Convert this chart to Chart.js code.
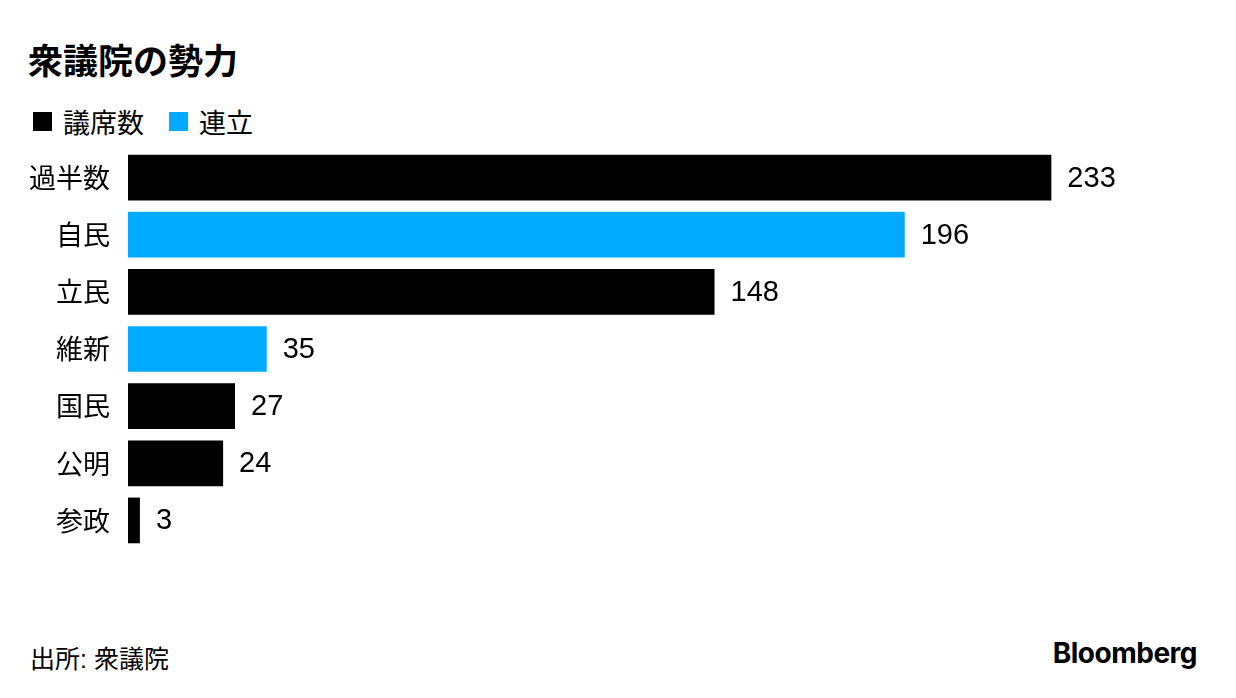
<!DOCTYPE html>
<html>
<head>
<meta charset="utf-8">
<script src="https://cdn.jsdelivr.net/npm/chart.js@4"></script>
<style>
  html, body { margin: 0; padding: 0; background: #fff; }
  body { width: 1236px; height: 698px; position: relative; overflow: hidden;
         font-family: "Liberation Sans", "Noto Sans CJK JP", sans-serif; color: #000; }
  #title { position: absolute; left: 28px; top: 33px; font-size: 35px; font-weight: bold;
           font-family: "Noto Sans CJK JP", sans-serif; }
  #legend { position: absolute; left: 33px; top: 102px; font-size: 27px;
            font-family: "Noto Sans CJK JP", sans-serif; display: flex; align-items: center; }
  .sw { display: inline-block; width: 19px; height: 19px; margin-right: 11px; }
  .item { display: flex; align-items: center; margin-right: 25px; }
  #wrap { position: absolute; left: 0; top: 149px; width: 1236px; height: 400px; }
  #source { position: absolute; left: 30px; top: 639px; font-size: 25px;
            font-family: "Liberation Sans", "Noto Sans CJK JP", sans-serif; }
  #logo { position: absolute; right: 39px; top: 636px; font-size: 28px; font-weight: bold;
          font-family: "Inter", "Noto Sans", sans-serif; letter-spacing: -0.5px; }
</style>
</head>
<body>
<div id="title">衆議院の勢力</div>
<div id="legend">
  <span class="item"><span class="sw" style="background:#000"></span>議席数</span>
  <span class="item"><span class="sw" style="background:#00aaff"></span>連立</span>
</div>
<div id="wrap"><canvas id="chart" width="1236" height="400"></canvas></div>
<div id="source">出所: 衆議院</div>
<div id="logo">Bloomberg</div>

<script>
const parties = ['過半数', '自民', '立民', '維新', '国民', '公明', '参政'];
const seats = [233, 196, 148, 35, 27, 24, 3];
const coalition = [false, true, false, true, false, false, false];

const BLACK = '#000000';
const BLUE = '#00aaff';

const valueLabels = {
  id: 'valueLabels',
  afterDatasetsDraw(chart) {
    const ctx = chart.ctx;
    const meta = chart.getDatasetMeta(0);
    ctx.save();
    ctx.font = '29px "Liberation Sans", sans-serif';
    ctx.fillStyle = '#000';
    ctx.textBaseline = 'middle';
    ctx.textAlign = 'left';
    meta.data.forEach((bar, i) => {
      ctx.fillText(String(seats[i]), bar.x + 16, bar.y + 1);
    });
    ctx.restore();
  }
};

new Chart(document.getElementById('chart'), {
  type: 'bar',
  data: {
    labels: parties,
    datasets: [{
      data: seats,
      backgroundColor: coalition.map(c => c ? BLUE : BLACK),
      borderWidth: 0,
      categoryPercentage: 0.8,
      barPercentage: 1.0,
    }],
  },
  options: {
    indexAxis: 'y',
    responsive: false,
    animation: false,
    layout: { padding: { left: 0, right: 38, top: 0, bottom: 0 } },
    plugins: { legend: { display: false }, tooltip: { enabled: false } },
    scales: {
      x: {
        display: false,
        min: 0,
        max: 270,
      },
      y: {
        grid: { display: false, drawTicks: false },
        border: { display: false },
        ticks: {
          color: '#000',
          padding: 18,
          font: { size: 27, family: '"Noto Sans CJK JP", sans-serif' },
        },
        afterFit(axis) {
          axis.width = 128;
          axis.paddingTop = 0;
          axis.paddingBottom = 0;
        },
      },
    },
  },
  plugins: [valueLabels],
});
</script>
</body>
</html>
